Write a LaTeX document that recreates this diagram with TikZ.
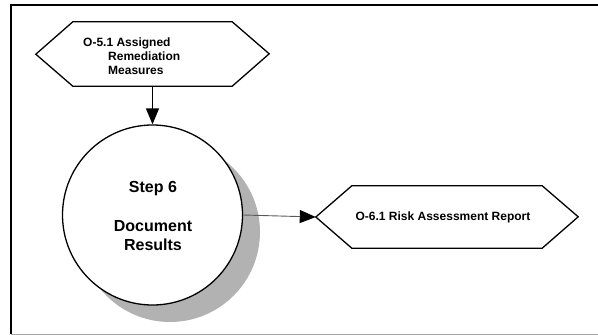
\documentclass[tikz,border=0pt]{standalone}
\usepackage{fontspec}
\setmainfont{Liberation Sans}
\usetikzlibrary{arrows.meta}
\begin{document}
\begin{tikzpicture}[x=1pt,y=-1pt,
  hexline/.style={draw=black,line width=1.3pt,line join=miter},
  flowarrow/.style={-{Triangle[length=16pt,width=13pt,color=black]}},
  labeltext/.style={font=\bfseries\fontsize{12}{14}\selectfont,inner sep=0pt},
  steptext/.style={font=\bfseries\fontsize{16}{19.5}\selectfont,align=center,inner sep=0pt}]
  \useasboundingbox (0,0) rectangle (598,335);
  % frame
  \draw[line width=2pt] (598,5) -- (11,5) -- (11,334);
  \draw[gray!70,line width=1pt] (11,334) -- (598,334);

  % input hexagon
  \node (inbox) [minimum width=159pt,minimum height=64pt,inner sep=0pt] at (152.5,54) {};
  \draw[hexline] (inbox.north west) -- (inbox.north east) -- ++(37,32)
    -- (inbox.south east) -- (inbox.south west) -- ++(-37,-32) -- cycle;
  \node (intext) [labeltext,align=left,anchor=west] at (83,56)
    {O-5.1 Assigned\\\hspace*{25pt}Remediation\\\hspace*{25pt}Measures};

  % process circle with shadow
  \fill[black!30] (170,232) circle (90);
  \node (step) [circle,draw,line width=1.3pt,fill=white,minimum size=180pt,inner sep=0pt] at (152.5,215) {};
  \node (steplabel) [steptext] at (153,216) {Step 6\\[19pt]Document\\Results};

  % output hexagon
  \node (outbox) [minimum width=190pt,minimum height=62pt,inner sep=0pt] at (447,217) {};
  \coordinate (outtip) at ([xshift=-36pt]outbox.west);
  \draw[hexline] (outbox.north west) -- (outbox.north east) -- ++(36,31)
    -- (outbox.south east) -- (outbox.south west) -- (outtip) -- cycle;
  \node (outtext) [labeltext] at (443,217) {O-6.1 Risk Assessment Report};

  % connectors
  \draw[flowarrow,line width=1.3pt] (inbox.south) -- (step.north);
  \draw[flowarrow,line width=0.9pt,draw=black!65] (step.east) -- (outtip);
\end{tikzpicture}
\end{document}
